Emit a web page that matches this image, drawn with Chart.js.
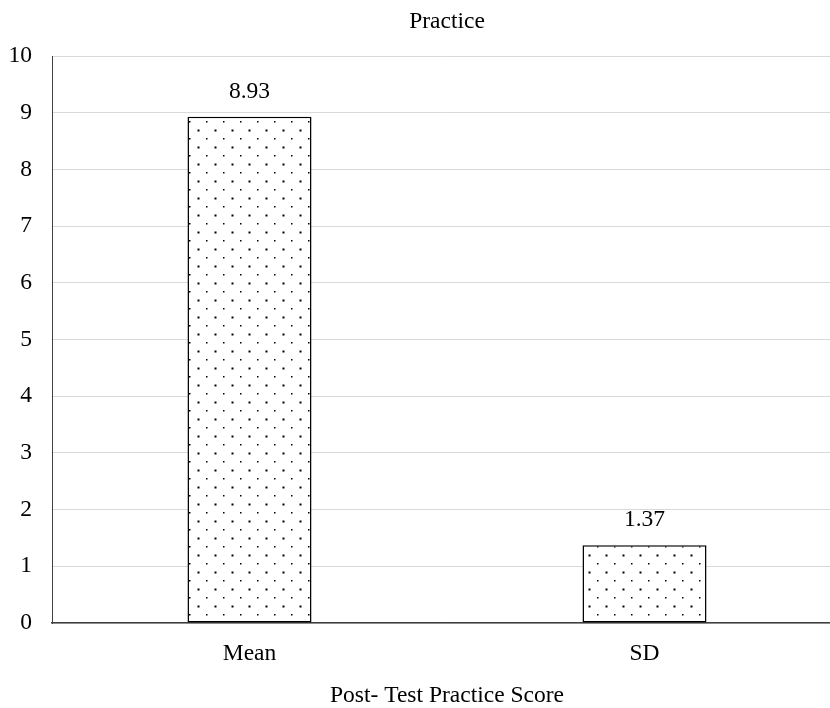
<!DOCTYPE html>
<html>
<head>
<meta charset="utf-8">
<script src="https://cdn.jsdelivr.net/npm/chart.js@4"></script>
<style>
  html, body { margin: 0; padding: 0; background: #fff; overflow: hidden; }
  #wrap { width: 830px; height: 708px; overflow: hidden; }
</style>
</head>
<body>
<div id="wrap"><canvas id="chart" width="842" height="708"></canvas></div>
<script>
const categories = ['Mean', 'SD'];
const scores = [8.93, 1.37];
const yTicks = [0, 1, 2, 3, 4, 5, 6, 7, 8, 9, 10];

const FONT = 'Liberation Serif, Times New Roman, serif';
const SIZE = 23.5;

// dotted fill like the original
function dotPattern() {
    const c = document.createElement('canvas');
    c.width = 17; c.height = 17;
    const g = c.getContext('2d');
    g.fillStyle = '#fff';
    g.fillRect(0, 0, 17, 17);
    g.fillStyle = '#000';
    g.fillRect(2, 2, 1.5, 1.5);
    g.fillRect(10.5, 10.5, 2, 2);
    return g.createPattern(c, 'repeat');
}

const valueLabels = {
    id: 'valueLabels',
    afterDatasetsDraw(chart) {
        const ctx = chart.ctx;
        const meta = chart.getDatasetMeta(0);
        ctx.save();
        ctx.font = SIZE + 'px ' + FONT;
        ctx.fillStyle = '#000';
        ctx.textAlign = 'center';
        ctx.textBaseline = 'middle';
        meta.data.forEach((bar, i) => {
            ctx.fillText(scores[i].toFixed(2), bar.x, bar.y - 25);
        });
        ctx.restore();
    }
};

new Chart(document.getElementById('chart'), {
    type: 'bar',
    data: {
        labels: categories,
        datasets: [{
            data: scores,
            backgroundColor: dotPattern(),
            borderColor: '#000',
            borderWidth: 1.5,
            borderSkipped: false,
            categoryPercentage: 0.314,
            barPercentage: 1
        }]
    },
    options: {
        responsive: false,
        animation: false,
        layout: { padding: 0 },
        plugins: {
            legend: { display: false },
            tooltip: { enabled: false },
            title: {
                display: true,
                fullSize: false,
                text: 'Practice',
                color: '#000',
                font: { family: FONT, size: SIZE, weight: 'normal', lineHeight: 1 },
                padding: { top: 10, bottom: 22.5 }
            }
        },
        scales: {
            x: {
                afterFit(axis) { axis.height = 85; },
                grid: { display: false, drawTicks: false },
                border: { display: true, color: '#404040', width: 1.5 },
                ticks: { color: '#000', padding: 19, font: { family: FONT, size: SIZE, lineHeight: 1 } },
                title: {
                    display: true,
                    text: 'Post- Test Practice Score',
                    color: '#000',
                    font: { family: FONT, size: SIZE, lineHeight: 1 },
                    padding: { top: 20, bottom: 0 }
                }
            },
            y: {
                min: 0,
                max: 10,
                afterFit(axis) { axis.width = 52; },
                afterBuildTicks(axis) { axis.ticks = yTicks.map(v => ({ value: v })); },
                grid: { color: '#d9d9d9', lineWidth: 1, drawTicks: false },
                border: { display: true, color: '#404040', width: 1 },
                ticks: { color: '#000', padding: 20, font: { family: FONT, size: SIZE, lineHeight: 1 } }
            }
        }
    },
    plugins: [valueLabels]
});
</script>
</body>
</html>
